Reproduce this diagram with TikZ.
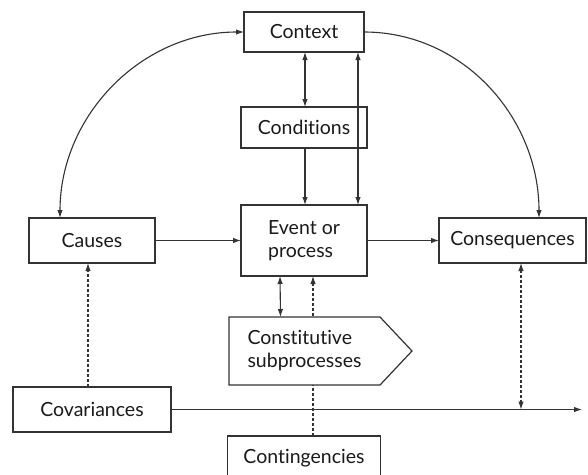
\documentclass[tikz,border=0pt]{standalone}
\usepackage{fontspec}
\setmainfont{Lato}[Ligatures={NoCommon,NoRare}]
\usetikzlibrary{arrows.meta,backgrounds,calc}
\definecolor{linec}{HTML}{333333}
\definecolor{txt}{HTML}{1A1A1A}
\begin{document}
\begin{tikzpicture}[x=1pt,y=-1pt,
  box/.style={draw=linec, line width=1.2pt, inner sep=0pt, outer sep=0pt, text=txt,
    font=\fontsize{19.5}{23}\selectfont},
  plain/.style={inner sep=0pt, outer sep=0pt, text=txt, font=\fontsize{19.5}{23}\selectfont},
  conn/.style={draw=linec, line width=1.1pt, -{Latex[length=8pt,width=5.5pt]}},
  dconn/.style={draw=linec, line width=1.1pt, {Latex[length=8pt,width=5.5pt]}-{Latex[length=8pt,width=5.5pt]}},
  dsh/.style={dash pattern=on 3pt off 2pt}]
\useasboundingbox (0,0) rectangle (588,474);

\node[box, minimum width=120pt, minimum height=40pt] (ctx) at (304,32) {Context};
\node[box, minimum width=126pt, minimum height=41pt] (cond) at (304,127.5) {Conditions};
\node[box, minimum width=126pt, minimum height=71pt, align=left] (event) at (304,240.5) {Event or\\process};
\node[box, minimum width=126pt, minimum height=45pt] (causes) at (92,240.5) {Causes};
\node[box, minimum width=147pt, minimum height=45pt] (cons) at (512.5,240.5) {Consequences};
\node[box, minimum width=158pt, minimum height=45pt] (cov) at (92,409.5) {Covariances};
\node[box, minimum width=153pt, minimum height=44pt] (cont) at (304,458) {Contingencies};
\node[plain, minimum width=151pt, minimum height=68pt, align=left] (constit) at (304.5,351) {Constitutive\\subprocesses};

\begin{scope}[on background layer]
  \fill[white] (0,0) rectangle (588,474);
  \draw[conn, dsh] ([xshift=9pt]cont.north) -- ([xshift=9pt]event.south);
  \path[draw=linec, line width=1.2pt, fill=white] (constit.north west) -- (constit.north east)
     -- ++(32,34) -- (constit.south east) -- (constit.south west) -- cycle;
\end{scope}

\coordinate (covend) at (582,409.5);
\coordinate (consfoot) at ([xshift=8.5pt]cons.south |- cov.east);

\draw[dconn] (ctx.west) to[out=180,in=90] ([xshift=31pt]causes.north west);
\draw[conn] (ctx.east) to[out=0,in=90] ([xshift=-47pt]cons.north east);
\draw[dconn] ([xshift=1pt]ctx.south) -- ([xshift=1pt]cond.north);
\draw[conn] ([xshift=1pt]cond.south) -- ([xshift=1pt]event.north);
\draw[dconn] ([xshift=54pt]event.north) -- ([xshift=54pt]ctx.south);
\draw[conn] (causes.east) -- (event.west);
\draw[conn] (event.east) -- (cons.west);
\draw[dconn] ([xshift=-24pt]event.south) -- ([xshift=-24pt]constit.north);
\draw[conn, dsh] ([xshift=-4pt]cov.north) -- ([xshift=-4pt]causes.south);
\draw[conn] (cov.east) -- (covend);
\draw[dconn, dsh] ([xshift=8.5pt]cons.south) -- (consfoot);
\end{tikzpicture}
\end{document}
